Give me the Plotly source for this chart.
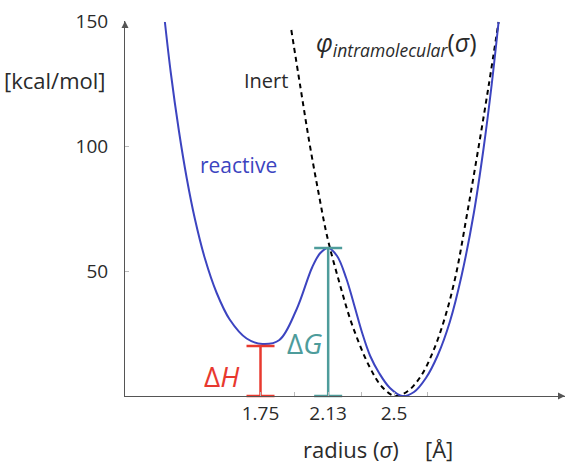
import plotly.graph_objects as go

# Reactive (blue) potential
reactive_r = [1.213, 1.246, 1.291, 1.336, 1.381, 1.437, 1.504, 1.577, 1.672, 1.761,
              1.856, 1.951, 2.041, 2.086, 2.130, 2.180, 2.231, 2.276, 2.321, 2.366,
              2.416, 2.477, 2.545, 2.612, 2.679, 2.746, 2.813, 2.880, 2.948, 3.003,
              3.048, 3.087]
reactive_e = [149.6, 129.4, 106.4, 87.0, 71.0, 55.2, 41.2, 30.6, 23.0, 20.8,
              22.4, 34.4, 51.6, 57.2, 59.2, 56.0, 47.2, 36.4, 25.2, 16.0,
              9.2, 3.2, 0.0, 1.6, 7.2, 16.4, 29.6, 48.4, 73.2, 99.2,
              124.4, 149.6]

# Inert (dashed) potential
inert_r = [1.923, 1.974, 2.024, 2.075, 2.125, 2.192, 2.265, 2.360, 2.433, 2.505,
           2.578, 2.651, 2.718, 2.785, 2.847, 2.908, 2.970, 3.031, 3.087]
inert_e = [146.4, 123.6, 101.6, 81.6, 63.6, 45.6, 28.4, 12.0, 3.6, 0.0,
           2.0, 8.0, 17.6, 31.2, 48.4, 72.0, 97.6, 124.0, 149.6]

# Energy bars
dH_r, dH_val = 1.75, 20.0
dG_r, dG_val = 2.13, 59.2

x_tick_vals = [1.75, 2.13, 2.5]
x_tick_text = ["1.75", "2.13", "2.5"]
x_minor_vals = [1.94, 2.315, 2.69]
y_tick_vals = [50, 100, 150]

FONT = "Open Sans"
BLUE = "#3c44c0"
RED = "#e8392f"
TEAL = "#4e9c9b"
TXT = "#2a2a2a"
AX = "#555555"

X0, X1 = 0.989, 3.46
Y0, Y1 = 0, 150

fig = go.Figure()
fig.add_trace(go.Scatter(x=inert_r, y=inert_e, mode="lines", line_shape="spline",
                         line=dict(color="black", width=2, dash="5px,4px"),
                         hoverinfo="skip"))
fig.add_trace(go.Scatter(x=reactive_r, y=reactive_e, mode="lines", line_shape="spline",
                         line=dict(color=BLUE, width=2), hoverinfo="skip"))

for r, v, c in [(dH_r, dH_val, RED), (dG_r, dG_val, TEAL)]:
    fig.add_trace(go.Scatter(x=[r, r], y=[0, v], mode="lines+markers",
                             line=dict(color=c, width=2.5),
                             marker=dict(symbol="line-ew", size=20,
                                         line=dict(color=c, width=2.5)),
                             cliponaxis=False, hoverinfo="skip"))

# axis arrow heads
fig.add_trace(go.Scatter(x=[X0], y=[Y1], mode="markers", cliponaxis=False,
                         marker=dict(symbol="arrow-up", size=7, color=AX),
                         hoverinfo="skip"))
fig.add_trace(go.Scatter(x=[X1], y=[Y0], mode="markers", cliponaxis=False,
                         marker=dict(symbol="arrow-right", size=7, color=AX),
                         hoverinfo="skip"))

ann = []
def add(text, x, y, size, color=TXT, xanchor="center", ref="data"):
    xr, yr = ("x", "y") if ref == "data" else ("paper", "paper")
    ann.append(dict(text=text, x=x, y=y, xref=xr, yref=yr, showarrow=False,
                    xanchor=xanchor, yanchor="middle",
                    font=dict(family=FONT, size=size, color=color)))

add("reactive", 1.627, 92.4, 21, BLUE)
add("Inert", 1.918, 126.4, 20, TXT, "right")
add("<i>φ</i><sub><i>intramolecular</i></sub>(<i>σ</i>)", 2.052, 141.0, 25, TXT, "left")
add("Δ<i>H</i>", 1.532, 8.0, 28, RED)
add("Δ<i>G</i>", 1.996, 21.2, 28, TEAL)
add("[kcal/mol]", -0.0386, 0.8427, 22, TXT, "right", ref="paper")
add("radius (<i>σ</i>)", 0.5125, -0.1413, 22, TXT, ref="paper")
add("[Å]", 0.7136, -0.1413, 22, TXT, ref="paper")

fig.update_layout(
    width=570, height=464,
    margin=dict(l=125, r=5, t=21, b=68),
    paper_bgcolor="white", plot_bgcolor="white",
    showlegend=False,
    annotations=ann,
    font=dict(family=FONT, size=18, color=TXT),
)
fig.update_xaxes(range=[X0, X1], showgrid=False, zeroline=False,
                 showline=True, linecolor=AX, linewidth=1,
                 tickvals=x_tick_vals, ticktext=x_tick_text,
                 ticks="inside", ticklen=4, tickcolor="#bbbbbb",
                 minor=dict(tickvals=x_minor_vals, ticks="inside", ticklen=4,
                            tickcolor="#bbbbbb"),
                 tickfont=dict(family=FONT, size=19, color=TXT))
fig.update_yaxes(range=[Y0, Y1], showgrid=False, zeroline=False,
                 showline=True, linecolor=AX, linewidth=1,
                 tickvals=y_tick_vals, ticks="inside", ticklen=4,
                 tickcolor="#bbbbbb", ticklabelstandoff=12,
                 tickfont=dict(family=FONT, size=19, color=TXT))

fig.write_html("out.html")
